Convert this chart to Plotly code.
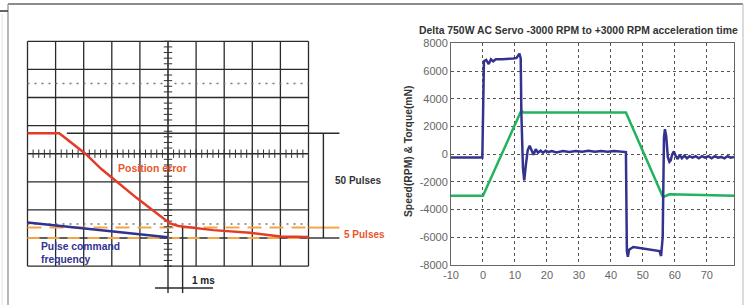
import plotly.graph_objects as go

W, H = 749, 305

# ---------------- data: left oscilloscope panel (units = graticule divisions) ----------
pos_err_x = [-5.0, -3.87, -2.95, -2.36, -1.11, 0.07, 0.37, 1.61, 2.92, 3.99, 5.0]
pos_err_y = [0.73, 0.73, 0.01, -0.555, -1.58, -2.48, -2.57, -2.72, -2.81, -2.95, -2.96]
pulse_cmd_x = [-5.0, 0.0]
pulse_cmd_y = [-2.45, -2.97]
level_50_top = 0.73        # 50 pulses reference (top)
level_base = -3.0          # 0 pulses reference
level_5 = -2.63            # 5 pulses band

# ---------------- data: right chart ----------------
torque_x = [-10, -0.2, 0.3, 1.0, 1.8, 2.5, 3.2, 4, 6, 8, 9.5, 10.5, 11.1, 11.4, 11.8, 12.0,
            12.5, 12.9, 13.4, 14.0, 14.6, 15.2, 15.8, 16.5, 17.2, 18.0, 18.8, 19.6, 20.5,
            21.5, 23, 25, 27, 29, 31, 33, 35, 37, 39, 41, 43, 44.4, 44.7, 45.0, 45.3, 45.7,
            46.2, 47, 48.5, 50, 52, 54, 55.2, 55.7, 56.2, 56.6, 56.9, 57.3, 57.8, 58.3, 58.7,
            59.2, 59.7, 60.3, 60.9, 61.5, 62.2, 63, 63.8, 64.6, 65.5, 66.5, 67.5, 68.5, 69.5,
            70.5, 71.5, 72.5, 73.5, 74.5, 75.5, 76.5, 77.5, 78.5]
torque_y = [-250, -250, 6700, 6800, 6500, 6850, 6700, 6850, 6850, 6850, 6900, 6950, 7100, 7250,
            6900, 3000, -1000, -1900, -800, 300, 600, 200, -50, 350, 100, 250, 100, 250, 150,
            220, 120, 230, 150, 230, 180, 250, 170, 220, 180, 220, 190, 200, 150, -7000, -7400,
            -6900, -6800, -6700, -6750, -6800, -6850, -6950, -7000, -7350, -6000, 1200, 1800,
            1300, -200, -550, -450, 0, 200, -150, -350, -50, -300, -100, -300, -150, -250, -150,
            -300, -150, -250, -150, -300, -150, -250, -200, -300, -150, -250, -200]
speed_x = [-10, 0, 12.0, 12.6, 44.7, 56.3, 58.3, 78.5]
speed_y = [-3000, -3000, 3150, 3000, 3000, -3100, -2900, -3000]

x_ticks = [-10, 0, 10, 20, 30, 40, 50, 60, 70]
y_ticks = [-8000, -6000, -4000, -2000, 0, 2000, 4000, 6000, 8000]
x_range = [-10, 78.5]
y_range = [-8000, 8000]

title_text = "Delta 750W AC Servo -3000 RPM to +3000 RPM acceleration time"
ytitle_text = "Speed(RPM) & Torque(mN)"

FONT = "Liberation Sans, Arial, sans-serif"
RED = "#e43a28"
ORANGE_RED = "#e8572c"
NAVY = "#33338f"
GREEN = "#22b35e"
ORANGE = "#f5a545"

# graticule geometry (pixels)
CX, CY, DIV = 168.0, 153.7, 28.1


def px(x):
    return x / W


def py(y):
    return 1 - y / H


fig = go.Figure()

# ---------- left panel traces ----------
tick_pos_v = [i * 0.2 for i in range(-20, 21)]
tick_pos_h = [i * 0.2 for i in range(-25, 26)]
fig.add_trace(go.Scatter(x=[0] * len(tick_pos_v), y=tick_pos_v, mode="markers",
                         marker=dict(symbol="line-ew", size=6, line=dict(width=1, color="#333")),
                         xaxis="x2", yaxis="y2", hoverinfo="skip", showlegend=False))
fig.add_trace(go.Scatter(x=tick_pos_h, y=[0] * len(tick_pos_h), mode="markers",
                         marker=dict(symbol="line-ns", size=6, line=dict(width=1, color="#333")),
                         xaxis="x2", yaxis="y2", hoverinfo="skip", showlegend=False))
fig.add_trace(go.Scatter(x=pulse_cmd_x, y=pulse_cmd_y, mode="lines",
                         line=dict(color=NAVY, width=2.5), xaxis="x2", yaxis="y2",
                         hoverinfo="skip", showlegend=False))
fig.add_trace(go.Scatter(x=pos_err_x, y=pos_err_y, mode="lines",
                         line=dict(color=RED, width=2.5), xaxis="x2", yaxis="y2",
                         hoverinfo="skip", showlegend=False))

# ---------- right chart traces ----------
fig.add_trace(go.Scatter(x=speed_x, y=speed_y, mode="lines", line=dict(color=GREEN, width=2.5),
                         showlegend=False))
fig.add_trace(go.Scatter(x=torque_x, y=torque_y, mode="lines", line=dict(color=NAVY, width=2.5),
                         showlegend=False))

shapes = []


def seg(x0, y0, x1, y1, color="#2a2a2a", width=1.3, dash="solid", ref=("x2", "y2"), layer="below"):
    shapes.append(dict(type="line", xref=ref[0], yref=ref[1], x0=x0, y0=y0, x1=x1, y1=y1,
                       line=dict(color=color, width=width, dash=dash), layer=layer))


# graticule
for i in range(-5, 6):
    seg(i, -4, i, 4, width=1.6 if i == 0 else 1.3)
for j in range(-4, 5):
    seg(-5, j, 5, j, width=1.6 if j == 0 else 1.3)
# dotted lines
seg(-5, 2.5, 5, 2.5, color="#777", width=1.5, dash="2px,5px")
seg(-5, -2.5, 5, -2.5, color="#777", width=1.5, dash="2px,5px")
# orange 5 pulse band
seg(-5, level_5, 5, level_5, color=ORANGE, width=2, dash="14px,8px")
seg(5, level_5, 6.1, level_5, color=ORANGE, width=2)
seg(-5, level_base, 5, level_base, color=ORANGE, width=2, dash="12px,8px")
# 50 pulse bracket
seg(-3.6, level_50_top, 6.1, level_50_top, width=1.4)
seg(5, level_base, 6.1, level_base, width=1.4)
seg(5.53, level_50_top, 5.53, level_base, width=1.4)
# 1 ms bracket
seg(0, -4, 0, -4.96, width=1.4)
seg(0.52, -2.57, 0.52, -4.96, width=1.4)
seg(-0.46, -4.78, 1.6, -4.78, width=1.4)

# page frame
seg(px(8), py(4), px(743), py(4), color="#8c8c8c", width=2, ref=("paper", "paper"), layer="above")
seg(px(8), py(4), px(8), py(305), color="#a0a0a0", width=1.5, ref=("paper", "paper"), layer="above")
seg(px(743), py(4), px(743), py(305), color="#cfcfcf", width=1.5, ref=("paper", "paper"), layer="above")
seg(px(2), py(14), px(2), py(305), color="#e2e2e2", width=1, ref=("paper", "paper"), layer="above")
seg(px(0), py(11), px(8), py(11), color="#333", width=1.5, ref=("paper", "paper"), layer="above")

annotations = []


def note(text, x, y, color, size, xanchor="left", ref=("x2", "y2"), angle=0):
    annotations.append(dict(text=text, x=x, y=y, xref=ref[0], yref=ref[1], xanchor=xanchor,
                            yanchor="middle", showarrow=False, textangle=angle, align="left",
                            font=dict(family=FONT, size=size, color=color, weight="bold")))


note("Position error", -1.85, -0.52, ORANGE_RED, 10.5)
note("Pulse command<br>frequency", -4.6, -3.55, NAVY, 10.3)
note("50 Pulses", 5.87, -0.97, "#333", 10)
note("5 Pulses", 6.18, -2.87, ORANGE_RED, 10)
note("1 ms", 0.78, -4.53, "#222", 10)
note(title_text, px(578.5), py(30), "#333", 10.4, xanchor="center", ref=("paper", "paper"))
note(ytitle_text, px(408), py(152), "#333", 10.3, xanchor="center", ref=("paper", "paper"), angle=-90)

x2_range = [(0 - CX) / DIV, (W - CX) / DIV]
y2_range = [(CY - H) / DIV, (CY - 0) / DIV]

fig.update_layout(
    width=W, height=H, margin=dict(l=0, r=0, t=0, b=0, pad=0),
    paper_bgcolor="white", plot_bgcolor="rgba(0,0,0,0)",
    shapes=shapes, annotations=annotations, showlegend=False,
    font=dict(family=FONT),
    xaxis=dict(domain=[px(451), px(734)], range=x_range, tickvals=x_ticks,
               ticktext=[str(v) for v in x_ticks], showgrid=True, gridcolor="#555",
               griddash="dot", gridwidth=1, zeroline=False, showline=True, mirror=True,
               linecolor="#666", linewidth=1, ticks="", anchor="y",
               tickfont=dict(size=11, color="#666"), automargin=False),
    yaxis=dict(domain=[1 - 265 / H, 1 - 43.3 / H], range=y_range, tickvals=y_ticks,
               ticktext=[str(v) for v in y_ticks], showgrid=True, gridcolor="#555",
               griddash="dot", gridwidth=1, zeroline=False, showline=True, mirror=True,
               linecolor="#666", linewidth=1, ticks="", anchor="x",
               tickfont=dict(size=11, color="#666"), automargin=False),
    xaxis2=dict(domain=[0, 1], range=x2_range, visible=False, anchor="y2", fixedrange=True),
    yaxis2=dict(domain=[0, 1], range=y2_range, visible=False, anchor="x2", fixedrange=True),
)

fig.write_html("out.html", config={"displayModeBar": False},
               post_script="document.body.style.margin='0';document.body.style.overflow='hidden';")
